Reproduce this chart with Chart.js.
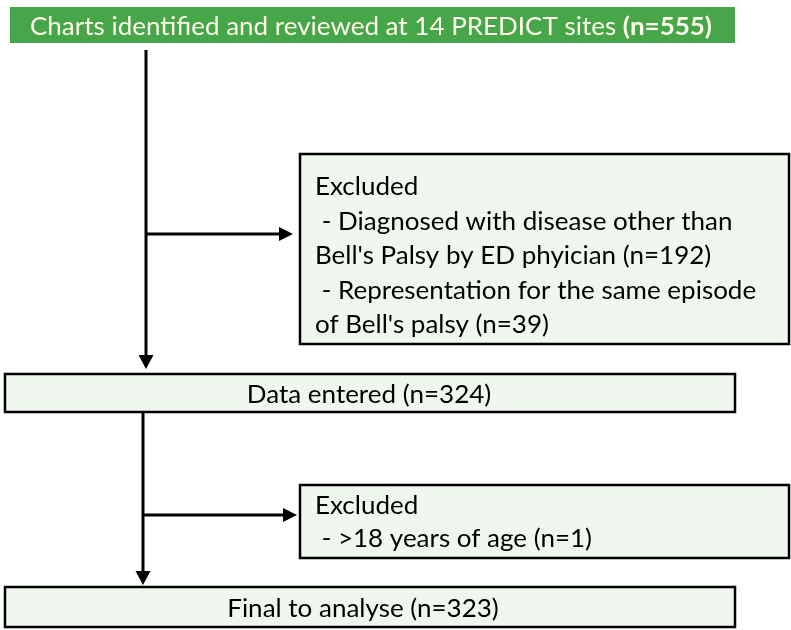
<!DOCTYPE html>
<html>
<head>
<meta charset="utf-8">
<script src="https://cdn.jsdelivr.net/npm/chart.js@4"></script>
<style>
  html, body { margin: 0; padding: 0; background: #fff; }
  #wrap { width: 791px; height: 630px; }
</style>
</head>
<body>
<div id="wrap"><canvas id="flow" width="791" height="630"></canvas></div>
<script>
'use strict';

// --- data ---
const stageLabels = ['Charts identified and reviewed at 14 PREDICT sites', 'Data entered', 'Final to analyse'];
const stageCounts = [555, 324, 323];

const excludedTitle = 'Excluded';
const exclusionReasonsA = ['Diagnosed with disease other than\nBell\'s Palsy by ED phyician', 'Representation for the same episode\nof Bell\'s palsy'];
const exclusionCountsA = [192, 39];
const exclusionReasonsB = ['>18 years of age'];
const exclusionCountsB = [1];

// --- layout (in chart units, axes run 0..791 and 0..630) ---
const layout = {
  stages: [
    { x0: 10, x1: 735, y0: 7, y1: 43, base: 35, cx: 371 },
    { x0: 5, x1: 735, y0: 374, y1: 412, base: 403, cx: 369 },
    { x0: 5, x1: 735, y0: 587, y1: 627, base: 617, cx: 363 }
  ],
  exclusions: [
    { x0: 300, x1: 789, y0: 154, y1: 344, tx: 315, base: 195, pitch: 34.5 },
    { x0: 300, x1: 789, y0: 485, y1: 558, tx: 315, base: 514, pitch: 33 }
  ],
  trunks: [
    { x: 146, y0: 50, y1: 369, branchY: 234, branchX: 293 },
    { x: 143, y0: 412, y1: 585, branchY: 515, branchX: 297 }
  ]
};

const colors = {
  green: '#46a649',
  cream: '#fffbea',
  mint: '#f0f7ef',
  ink: '#000000'
};
const fontFamily = 'Lato, "Open Sans", sans-serif';
const fontSize = 25;

const flowPlugin = {
  id: 'flow',
  afterDraw(chart) {
    const ctx = chart.ctx;
    const px = v => chart.scales.x.getPixelForValue(v);
    const py = v => chart.scales.y.getPixelForValue(v);
    const fontN = fontSize + 'px ' + fontFamily;
    const fontB = 'bold ' + fontSize + 'px ' + fontFamily;

    // squeeze the substitute font to the Calibri-like widths of the original
    ctx.font = fontN;
    const topA = stageLabels[0] + ' ';
    let w = ctx.measureText(topA).width;
    ctx.font = fontB;
    const topB = '(n=' + stageCounts[0] + ')';
    w += ctx.measureText(topB).width;
    const sx = 682 / w;

    function text(str, x, y, font, color, align) {
      ctx.save();
      ctx.font = font;
      ctx.fillStyle = color;
      ctx.textBaseline = 'alphabetic';
      const tw = ctx.measureText(str).width * sx;
      const left = align === 'center' ? x - tw / 2 : x;
      ctx.translate(left, y);
      ctx.scale(sx, 1);
      ctx.textAlign = 'left';
      ctx.fillText(str, 0, 0);
      ctx.restore();
      return tw;
    }

    function box(b, fill, stroke) {
      const x = px(b.x0), y = py(b.y0);
      const bw = px(b.x1) - x, bh = py(b.y1) - y;
      ctx.fillStyle = fill;
      ctx.fillRect(x, y, bw, bh);
      if (stroke) {
        ctx.strokeStyle = stroke;
        ctx.lineWidth = 2.5;
        ctx.strokeRect(x, y, bw, bh);
      }
    }

    function line(x0, y0, x1, y1) {
      ctx.beginPath();
      ctx.moveTo(px(x0), py(y0));
      ctx.lineTo(px(x1), py(y1));
      ctx.strokeStyle = '#000';
      ctx.lineWidth = 3;
      ctx.stroke();
    }

    function headDown(x, y) {
      ctx.beginPath();
      ctx.moveTo(px(x), py(y));
      ctx.lineTo(px(x) - 7.5, py(y) - 14);
      ctx.lineTo(px(x) + 7.5, py(y) - 14);
      ctx.closePath();
      ctx.fillStyle = '#000';
      ctx.fill();
    }

    function headRight(x, y) {
      ctx.beginPath();
      ctx.moveTo(px(x), py(y));
      ctx.lineTo(px(x) - 14, py(y) - 7);
      ctx.lineTo(px(x) - 14, py(y) + 7);
      ctx.closePath();
      ctx.fillStyle = '#000';
      ctx.fill();
    }

    ctx.save();

    // connectors
    layout.trunks.forEach(t => {
      line(t.x, t.y0, t.x, t.y1 - 12);
      headDown(t.x, t.y1);
      line(t.x, t.branchY, t.branchX - 12, t.branchY);
      headRight(t.branchX, t.branchY);
    });

    // stage boxes
    layout.stages.forEach((b, i) => {
      if (i === 0) {
        box(b, colors.green, null);
        ctx.font = fontN;
        const wa = ctx.measureText(topA).width * sx;
        ctx.font = fontB;
        const wb = ctx.measureText(topB).width * sx;
        const start = px(b.cx) - (wa + wb) / 2;
        text(topA, start, py(b.base), fontN, colors.cream, 'left');
        text(topB, start + wa, py(b.base), fontB, colors.cream, 'left');
      } else {
        box(b, colors.mint, colors.ink);
        text(stageLabels[i] + ' (n=' + stageCounts[i] + ')', px(b.cx), py(b.base), fontN, '#000', 'center');
      }
    });

    // exclusion boxes
    const groups = [[exclusionReasonsA, exclusionCountsA], [exclusionReasonsB, exclusionCountsB]];
    layout.exclusions.forEach((b, gi) => {
      box(b, colors.mint, colors.ink);
      const lines = [excludedTitle];
      const [reasons, counts] = groups[gi];
      reasons.forEach((r, k) => {
        const parts = r.split('\n');
        parts[0] = ' - ' + parts[0];
        parts[parts.length - 1] += ' (n=' + counts[k] + ')';
        lines.push(...parts);
      });
      lines.forEach((s, k) => {
        text(s, px(b.tx), py(b.base + k * b.pitch), fontN, '#000', 'left');
      });
    });

    ctx.restore();
  }
};

const canvas = document.getElementById('flow');
new Chart(canvas, {
  type: 'scatter',
  data: { datasets: [] },
  options: {
    responsive: false,
    animation: false,
    layout: { padding: 0 },
    scales: {
      x: { type: 'linear', min: 0, max: 791, display: false },
      y: { type: 'linear', min: 0, max: 630, reverse: true, display: false }
    },
    plugins: {
      legend: { display: false },
      tooltip: { enabled: false }
    }
  },
  plugins: [flowPlugin]
});
</script>
</body>
</html>
